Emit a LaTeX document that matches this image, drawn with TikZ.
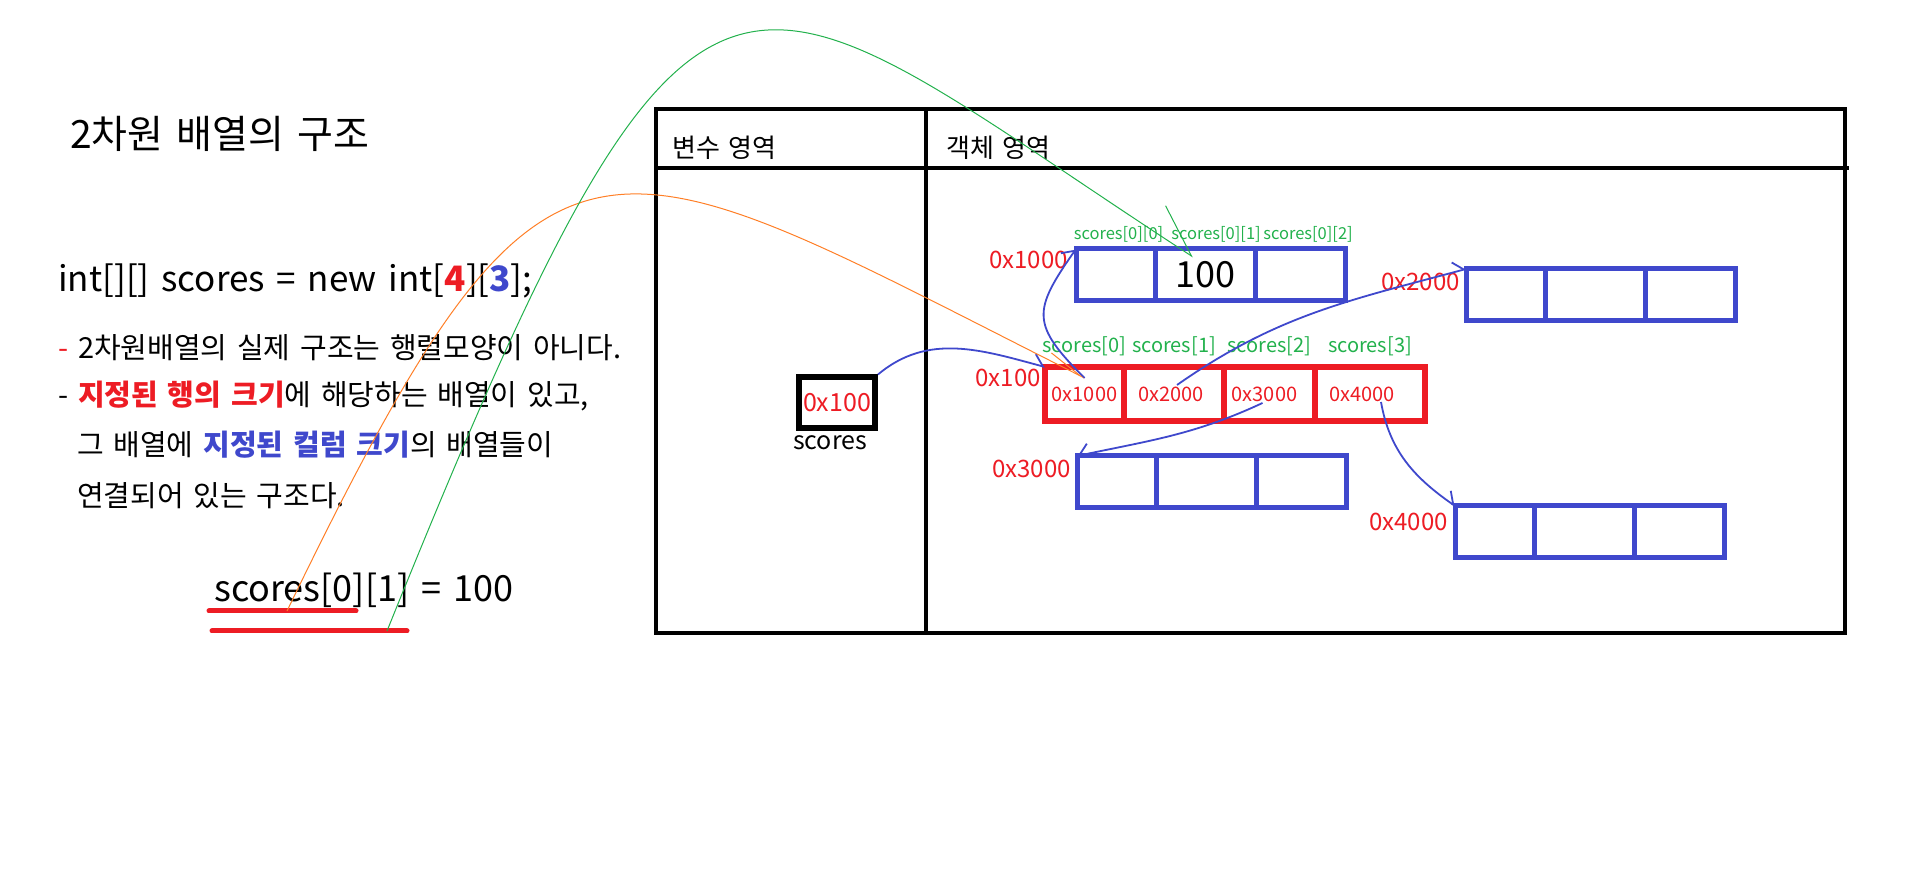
\documentclass[tikz,border=0pt]{standalone}
\usepackage{fontspec}
\setmainfont{Noto Sans CJK KR}[WordSpace=1.5]
\usetikzlibrary{positioning,arrows.meta}

\definecolor{pred}{HTML}{ED1C24}
\definecolor{pblue}{HTML}{3F48CC}
\definecolor{pgreen}{HTML}{22B14C}
\definecolor{porange}{HTML}{FF7F27}

\tikzset{
	cell/.style={draw=pblue,line width=5pt,minimum height=52pt,inner sep=0pt,outer sep=0pt},
	rowcell/.style={draw=pred,line width=6pt,minimum height=54pt,inner sep=0pt,outer sep=0pt,
		text=pred,font=\fontsize{20}{24}\selectfont},
	addr/.style={text=pred,inner sep=0pt,font=\fontsize{24}{28}\selectfont},
	idx/.style={text=pgreen,inner sep=0pt},
	say/.style={anchor=west,inner sep=0pt,font=\fontsize{29}{33}\selectfont},
	ptr/.style={draw=pblue,line width=1.8pt,-{Straight Barb[#1,length=10pt,width=20pt]}},
	ptr/.default=left,
	hint/.style={line width=1pt},
}

\begin{document}
\begin{tikzpicture}[x=1pt,y=1pt]
	\useasboundingbox (0,0) rectangle (1906,869);

	% explanation on the left
	\node[say,font=\fontsize{39}{43}\selectfont] (title) at (70,735) {2차원 배열의 구조};
	\node[say,font=\fontsize{35}{40}\selectfont] (decl) at (58,588)
		{int[][] scores = new int[\textbf{\textcolor{pred}{4}}][\textbf{\textcolor{pblue}{3}}];};
	\node[say] (line1) at (58,521) {\textcolor{pred}{-} 2차원배열의 실제 구조는 행렬모양이 아니다.};
	\node[say] (line2) at (58,473) {- \textbf{\textcolor{pred}{지정된 행의 크기}}에 해당하는 배열이 있고,};
	\node[say] (line3) at (77,424) {그 배열에 \textbf{\textcolor{pblue}{지정된 컬럼 크기}}의 배열들이};
	\node[say] (line4) at (77,373) {연결되어 있는 구조다.};
	\node[say,font=\fontsize{36}{40}\selectfont] (assign) at (214,279) {scores[0][1] = 100};

	\coordinate (u1a) at (209,258);
	\coordinate (u1b) at (356,258);
	\coordinate (u2a) at (212,238);
	\coordinate (u2b) at (407,238);
	\draw[pred,line width=5pt,line cap=round] (u1a) -- (u1b) (u2a) -- (u2b);

	% memory table
	\draw[line width=3.5pt] (656,760) rectangle (1845,236);
	\draw[line width=3.5pt] (926,760) -- (926,236);
	\draw[line width=3.5pt] (656,701) -- (1849,701);
	\node[say,font=\fontsize{26}{29}\selectfont] (stack) at (672,721) {변수 영역};
	\node[say,font=\fontsize{26}{29}\selectfont] (heap) at (946,721) {객체 영역};

	% variable
	\node[draw,line width=6pt,minimum width=76pt,minimum height=51pt,inner sep=0pt,
		text=pred,font=\fontsize{25}{28}\selectfont] (var) at (837,466) {0x100};
	\node[below=4pt of var,xshift=-7pt,inner sep=0pt,font=\fontsize{25}{29}\selectfont] (varname) {scores};

	% row array
	\node[rowcell,minimum width=79pt,anchor=north west] (r-1) at (1045,502) {0x1000};
	\node[rowcell,minimum width=100pt,right=0pt of r-1] (r-2) {0x2000\hspace*{6pt}};
	\node[rowcell,minimum width=91pt,right=0pt of r-2] (r-3) {0x3000\hspace*{10pt}};
	\node[rowcell,minimum width=110pt,right=0pt of r-3] (r-4) {0x4000\hspace*{16pt}};
	\foreach \i [count=\n] in {0,...,3}
		\node[idx,font=\fontsize{20}{24}\selectfont,above=11pt of r-\n] (ri-\n) {scores[\i]};
	\node[addr,below left=2pt and 4pt of r-1.north west] (ar) {0x100};

	% column arrays
	\foreach \a/\pos in {1/{(1076,620)},2/{(1466,600)},3/{(1077,413)},4/{(1455,363)}} {
		\node[cell,minimum width=79pt,anchor=north west] (b\a-1) at \pos {};
		\node[cell,minimum width=100pt,right=0pt of b\a-1] (b\a-2) {};
		\node[cell,minimum width=90pt,right=0pt of b\a-2] (b\a-3) {};
	}
	\node[inner sep=0pt,font=\fontsize{36}{40}\selectfont] (val) at (b1-2) {100};
	\foreach \j/\dx [count=\n] in {0/3,1/11,2/8}
		\node[idx,font=\fontsize{16.5}{20}\selectfont,above=6pt of b1-\n,xshift=\dx pt] (bi-\n) {scores[0][\j]};

	\node[addr,below left=2pt and 8pt of b1-1.north west] (a1) {0x1000};
	\node[addr,below left=4pt and 6pt of b2-1.north west] (a2) {0x2000};
	\node[addr,below left=4pt and 6pt of b3-1.north west] (a3) {0x3000};
	\node[addr,below left=7pt and 7pt of b4-1.north west] (a4) {0x4000};

	% references
	\coordinate (r1top) at ([yshift=16pt]r-1.center);
	\coordinate (v01) at ([xshift=-12pt,yshift=-8pt]b1-2.north);
	\coordinate (o-start) at (287,258);
	\coordinate (g-start) at (387,238);

	\draw[ptr] (var.north east) to[out=40,in=165] (r-1.north west);
	\draw[ptr] (r1top) to[out=135,in=235,looseness=1.5] (b1-1.north west);
	\draw[ptr] ([shift={(3pt,9pt)}]r-2.center) to[out=35,in=195] (b2-1.north west);
	\draw[ptr=right] ([shift={(-7pt,-9pt)}]r-3.center) to[out=-155,in=12] (b3-1.north west);
	\draw[ptr] ([shift={(11pt,-8pt)}]r-4.center) to[out=-80,in=145] (b4-1.north west);

	\draw[hint,porange,-{Straight Barb[left,length=36pt,width=15pt]}]
		(o-start) .. controls (550,801) and (592,739) .. (r1top);
	\draw[hint,pgreen,-{Straight Barb[left,length=49pt,width=56pt]}]
		(g-start) .. controls (705,1026) and (731,912) .. (v01);

\end{tikzpicture}
\end{document}
